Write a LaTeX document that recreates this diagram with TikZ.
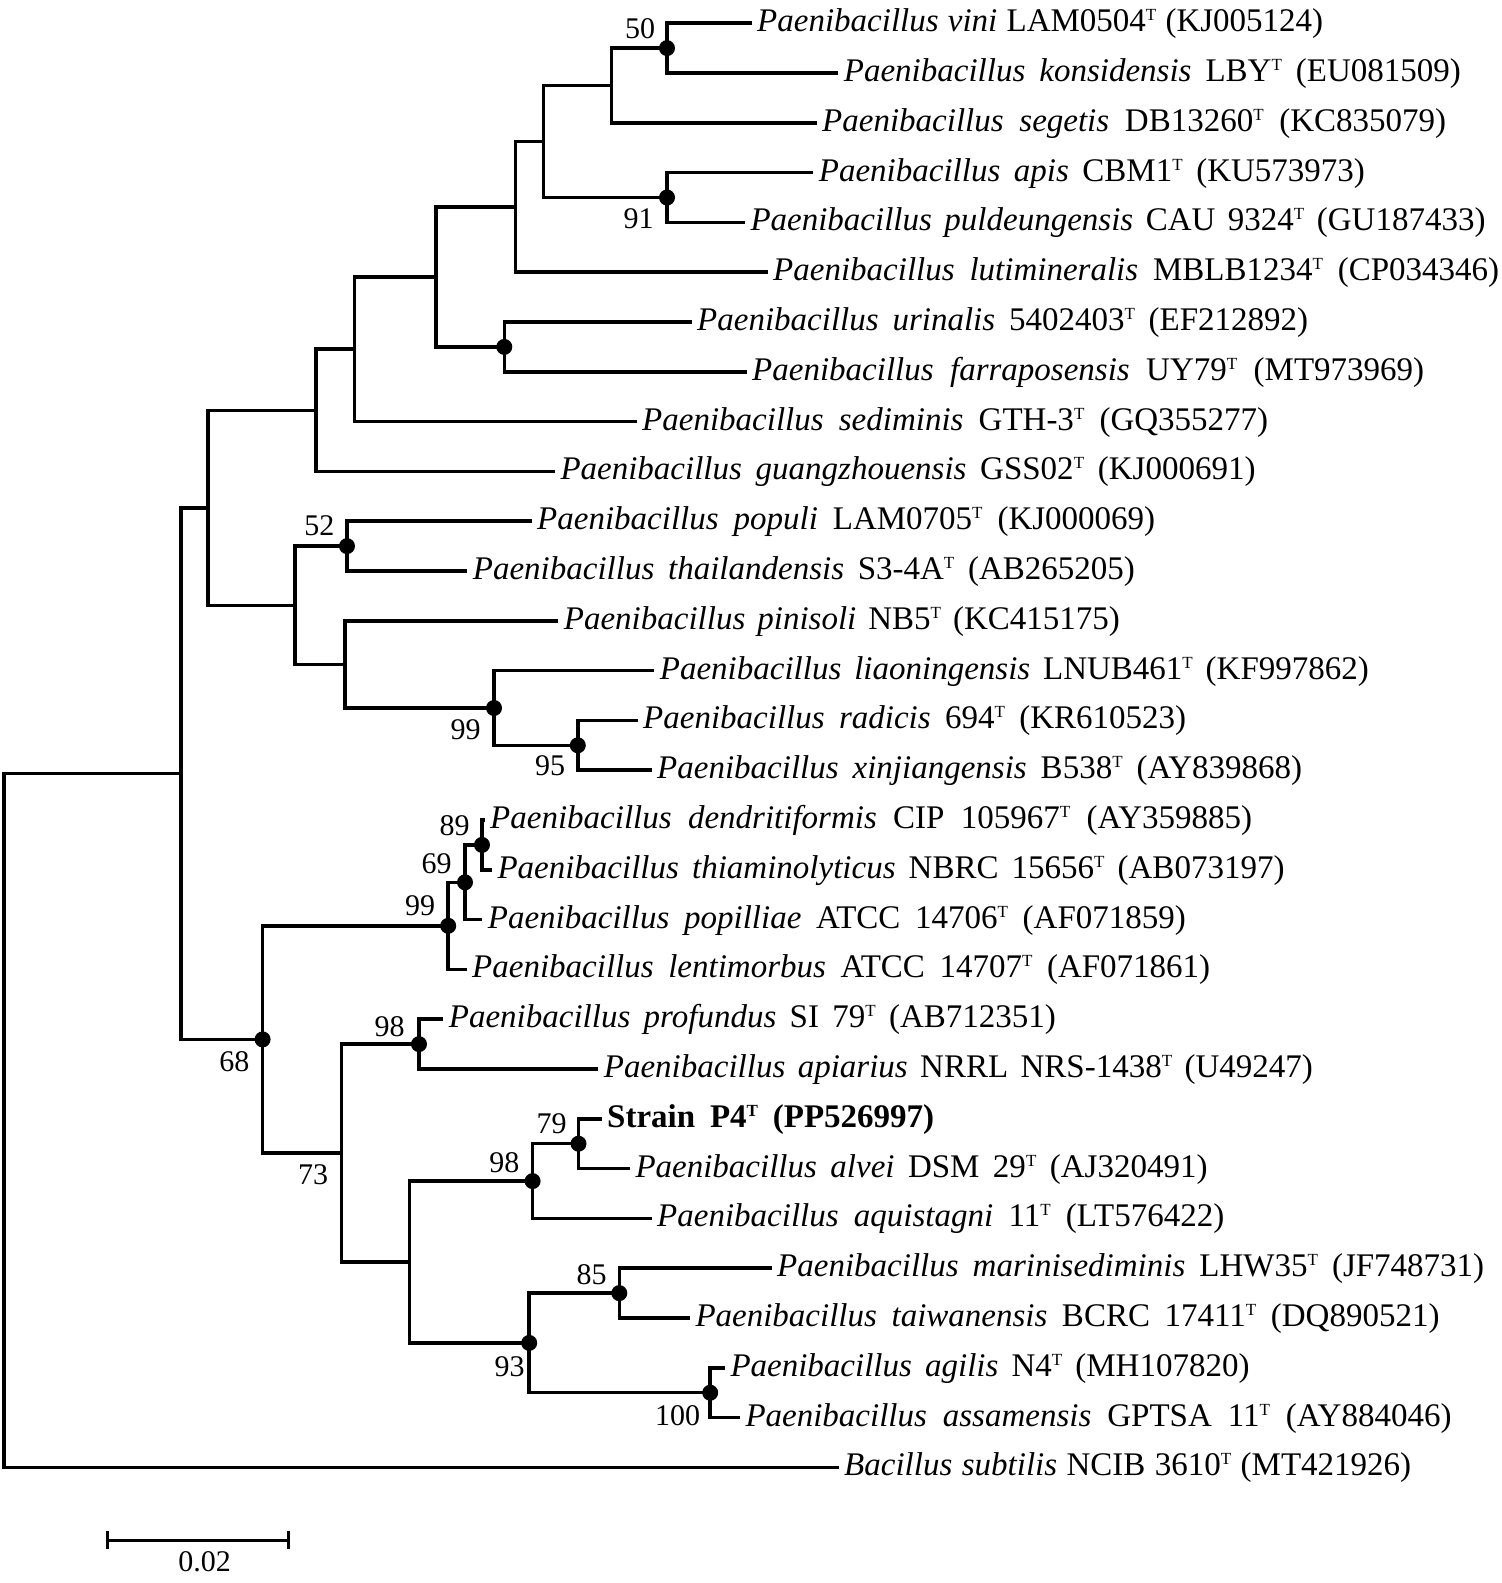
\documentclass[tikz,border=0pt]{standalone}
\usepackage{fontspec}
\setmainfont{Liberation Serif}
\newcommand\supT{\raisebox{11pt}{\fontsize{17}{20}\selectfont T}}
\newcommand\leafnode[5]{%
  \coordinate (#1) at (#2,#3);
  \node[leaflab] (#1t) at (#1) {\makebox[#4pt][s]{#5}};}
\tikzset{
  branch/.style={line width=3.5pt, line cap=rect, line join=miter},
  leaflab/.style={anchor=base west, inner sep=0pt, xshift=7pt, yshift=-8.5pt,
    font=\fontsize{33}{40}\selectfont},
  bsdot/.style={circle, fill=black, inner sep=0pt, minimum size=16pt},
  bslab/.style={inner sep=0pt, font=\fontsize{30}{36}\selectfont},
}
\begin{document}
\begin{tikzpicture}[x=1pt, y=-1pt]
\fill[white] (0,0) rectangle (1502,1583);
\useasboundingbox (0,0) rectangle (1502,1583);

% leaves
\leafnode{vini}{750}{23.2}{566}{\textit{Paenibacillus vini} LAM0504\supT{} (KJ005124)}
\leafnode{konsid}{836.7}{73.0}{617}{\textit{Paenibacillus konsidensis} LBY\supT{} (EU081509)}
\leafnode{segetis}{815}{122.8}{624}{\textit{Paenibacillus segetis} DB13260\supT{} (KC835079)}
\leafnode{apis}{811.7}{172.6}{546}{\textit{Paenibacillus apis} CBM1\supT{} (KU573973)}
\leafnode{pulde}{743.3}{222.4}{735}{\textit{Paenibacillus puldeungensis} CAU 9324\supT{} (GU187433)}
\leafnode{luti}{766}{272.2}{726}{\textit{Paenibacillus lutimineralis} MBLB1234\supT{} (CP034346)}
\leafnode{urinalis}{690}{322.0}{611}{\textit{Paenibacillus urinalis} 5402403\supT{} (EF212892)}
\leafnode{farra}{745}{371.8}{672}{\textit{Paenibacillus farraposensis} UY79\supT{} (MT973969)}
\leafnode{sedim}{635}{421.6}{626}{\textit{Paenibacillus sediminis} GTH-3\supT{} (GQ355277)}
\leafnode{guang}{553.3}{471.4}{695}{\textit{Paenibacillus guangzhouensis} GSS02\supT{} (KJ000691)}
\leafnode{populi}{530}{521.2}{618}{\textit{Paenibacillus populi} LAM0705\supT{} (KJ000069)}
\leafnode{thai}{465.7}{571.0}{662}{\textit{Paenibacillus thailandensis} S3-4A\supT{} (AB265205)}
\leafnode{pinis}{556.7}{620.8}{556}{\textit{Paenibacillus pinisoli} NB5\supT{} (KC415175)}
\leafnode{liaon}{652.7}{670.6}{709}{\textit{Paenibacillus liaoningensis} LNUB461\supT{} (KF997862)}
\leafnode{radic}{636}{720.4}{543}{\textit{Paenibacillus radicis} 694\supT{} (KR610523)}
\leafnode{xinj}{650}{770.2}{645}{\textit{Paenibacillus xinjiangensis} B538\supT{} (AY839868)}
\leafnode{dendri}{483}{820.0}{762}{\textit{Paenibacillus dendritiformis} CIP 105967\supT{} (AY359885)}
\leafnode{thiam}{490.3}{869.8}{787}{\textit{Paenibacillus thiaminolyticus} NBRC 15656\supT{} (AB073197)}
\leafnode{popil}{480.7}{919.6}{698}{\textit{Paenibacillus popilliae} ATCC 14706\supT{} (AF071859)}
\leafnode{lentim}{465}{969.4}{738}{\textit{Paenibacillus lentimorbus} ATCC 14707\supT{} (AF071861)}
\leafnode{profund}{441.7}{1019.2}{607}{\textit{Paenibacillus profundus} SI 79\supT{} (AB712351)}
\leafnode{apiar}{596.7}{1069.0}{709}{\textit{Paenibacillus apiarius} NRRL NRS-1438\supT{} (U49247)}
\leafnode{strain}{600}{1118.8}{327}{\textbf{Strain P4\supT{} (PP526997)}}
\leafnode{alvei}{628.3}{1168.6}{572}{\textit{Paenibacillus alvei} DSM 29\supT{} (AJ320491)}
\leafnode{aquist}{650}{1218.4}{567}{\textit{Paenibacillus aquistagni} 11\supT{} (LT576422)}
\leafnode{marini}{770}{1268.2}{707}{\textit{Paenibacillus marinisediminis} LHW35\supT{} (JF748731)}
\leafnode{taiwan}{688.3}{1318.0}{744}{\textit{Paenibacillus taiwanensis} BCRC 17411\supT{} (DQ890521)}
\leafnode{agilis}{723.3}{1367.8}{519}{\textit{Paenibacillus agilis} N4\supT{} (MH107820)}
\leafnode{assam}{738.3}{1417.6}{706}{\textit{Paenibacillus assamensis} GPTSA 11\supT{} (AY884046)}
\leafnode{bsub}{837}{1467.4}{567}{\textit{Bacillus subtilis} NCIB 3610\supT{} (MT421926)}

% internal nodes
\coordinate (root) at (4,1120.5);
\coordinate (A) at (180.8,773.6);
\coordinate (B) at (208,507.8);
\coordinate (C) at (316,410.3);
\coordinate (D) at (354.5,349.2);
\coordinate (E) at (436,276.9);
\coordinate (F) at (515.3,206.8);
\coordinate (G) at (543.3,141.5);
\coordinate (H) at (611.5,85.5);
\coordinate (I) at (667,48.1);
\coordinate (J) at (667,197.5);
\coordinate (K) at (504.3,346.9);
\coordinate (L) at (295,605.3);
\coordinate (M) at (347,546.1);
\coordinate (P) at (345,664.4);
\coordinate (O) at (494,708);
\coordinate (N) at (577.8,745.3);
\coordinate (AB) at (262.6,1039.4);
\coordinate (S) at (448.2,925.8);
\coordinate (R) at (465,882.3);
\coordinate (Q) at (482,844.9);
\coordinate (AA) at (341.5,1153.1);
\coordinate (T) at (419,1044.1);
\coordinate (Z) at (409.3,1262);
\coordinate (V) at (532.6,1181.1);
\coordinate (U) at (578.5,1143.7);
\coordinate (Y) at (529.2,1342.9);
\coordinate (W) at (619.3,1293.1);
\coordinate (X) at (710.2,1392.7);

% branches
\begin{scope}[branch]
\draw (vini) -| (I); \draw (konsid) -| (I);
\draw (I) -| (H); \draw (segetis) -| (H);
\draw (apis) -| (J); \draw (pulde) -| (J);
\draw (H) -| (G); \draw (J) -| (G);
\draw (G) -| (F); \draw (luti) -| (F);
\draw (urinalis) -| (K); \draw (farra) -| (K);
\draw (F) -| (E); \draw (K) -| (E);
\draw (E) -| (D); \draw (sedim) -| (D);
\draw (D) -| (C); \draw (guang) -| (C);
\draw (populi) -| (M); \draw (thai) -| (M);
\draw (radic) -| (N); \draw (xinj) -| (N);
\draw (liaon) -| (O); \draw (N) -| (O);
\draw (pinis) -| (P); \draw (O) -| (P);
\draw (M) -| (L); \draw (P) -| (L);
\draw (C) -| (B); \draw (L) -| (B);
\draw (dendri) -| (Q); \draw (thiam) -| (Q);
\draw (Q) -| (R); \draw (popil) -| (R);
\draw (R) -| (S); \draw (lentim) -| (S);
\draw (profund) -| (T); \draw (apiar) -| (T);
\draw (strain) -| (U); \draw (alvei) -| (U);
\draw (U) -| (V); \draw (aquist) -| (V);
\draw (marini) -| (W); \draw (taiwan) -| (W);
\draw (agilis) -| (X); \draw (assam) -| (X);
\draw (W) -| (Y); \draw (X) -| (Y);
\draw (V) -| (Z); \draw (Y) -| (Z);
\draw (T) -| (AA); \draw (Z) -| (AA);
\draw (S) -| (AB); \draw (AA) -| (AB);
\draw (B) -| (A); \draw (AB) -| (A);
\draw (A) -| (root); \draw (bsub) -| (root);
\end{scope}

% bootstrap dots
\foreach \n in {I,J,K,M,O,N,Q,R,S,AB,T,U,V,W,Y,X}
  \node[bsdot] (dot\n) at (\n) {};

% bootstrap values
\node[bslab] (b50) at (640,28.3) {50};
\node[bslab] (b91) at (638.5,218.5) {91};
\node[bslab] (b52) at (319.3,526) {52};
\node[bslab] (b99a) at (465.7,729.3) {99};
\node[bslab] (b95) at (550,766) {95};
\node[bslab] (b89) at (454.7,825.3) {89};
\node[bslab] (b69) at (436.7,863.5) {69};
\node[bslab] (b99b) at (420,906) {99};
\node[bslab] (b98a) at (389.7,1026.3) {98};
\node[bslab] (b68) at (234.3,1061.7) {68};
\node[bslab] (b73) at (313.2,1174.5) {73};
\node[bslab] (b79) at (551.5,1124) {79};
\node[bslab] (b98b) at (504.3,1162.8) {98};
\node[bslab] (b85) at (591.6,1275) {85};
\node[bslab] (b93) at (509.5,1366.7) {93};
\node[bslab] (b100) at (677.5,1415.5) {100};

% scale bar
\coordinate (sbL) at (107.6,1540.3);
\coordinate (sbR) at (288.4,1540.3);
\draw[line width=3.2pt] (sbL) -- (sbR);
\draw[line width=3.2pt] ([yshift=9pt]sbL) -- ([yshift=-9pt]sbL);
\draw[line width=3.2pt] ([yshift=9pt]sbR) -- ([yshift=-9pt]sbR);
\node[bslab] (sblab) at (204.7,1562) {0.02};
\end{tikzpicture}
\end{document}
